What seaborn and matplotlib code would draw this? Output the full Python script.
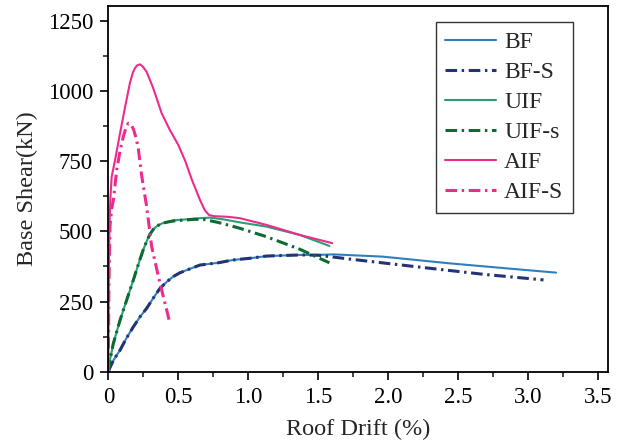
import matplotlib
matplotlib.use("Agg")
import matplotlib.pyplot as plt
import seaborn as sns
import pandas as pd
from matplotlib.ticker import MultipleLocator
from matplotlib import font_manager

# ---- data ----
bf_x = [0, 0.012, 0.038, 0.084, 0.13, 0.179, 0.226, 0.274, 0.321, 0.369, 0.417, 0.464, 0.51, 0.56, 0.655, 0.786, 0.89, 1.01, 1.13, 1.37, 1.49, 1.61, 1.96, 2.44, 2.92, 3.20]
bf_y = [0, 15, 42, 77, 120, 160, 195, 226, 262, 297, 320, 339, 352, 362, 380, 388, 398, 404, 412, 416, 416, 418, 410, 386, 365, 353]

bfs_x = [0, 0.012, 0.038, 0.084, 0.13, 0.179, 0.226, 0.274, 0.321, 0.369, 0.417, 0.464, 0.51, 0.56, 0.655, 0.786, 0.89, 1.01, 1.13, 1.37, 1.50, 1.73, 2.20, 2.68, 3.11]
bfs_y = [0, 15, 42, 77, 120, 160, 195, 226, 262, 297, 320, 339, 352, 362, 380, 388, 398, 404, 412, 416, 415, 401, 374, 347, 327]

uif_x = [0, 0.012, 0.036, 0.084, 0.131, 0.179, 0.226, 0.25, 0.274, 0.298, 0.321, 0.345, 0.37, 0.393, 0.464, 0.536, 0.655, 0.726, 0.82, 0.94, 1.13, 1.37, 1.58]
uif_y = [0, 42, 101, 184, 255, 327, 400, 435, 465, 490, 507, 518, 525, 530, 539, 542, 547, 549, 543, 532, 517, 487, 448]

uifs_x = [0, 0.012, 0.036, 0.084, 0.131, 0.179, 0.226, 0.25, 0.274, 0.298, 0.321, 0.345, 0.37, 0.393, 0.464, 0.536, 0.62, 0.69, 0.80, 0.94, 1.13, 1.37, 1.58]
uifs_y = [0, 42, 101, 184, 255, 327, 400, 435, 465, 490, 507, 518, 525, 530, 537, 540, 543, 542, 530, 511, 481, 436, 388]

aif_x = [0, 0.003, 0.008, 0.015, 0.024, 0.048, 0.084, 0.12, 0.155, 0.175, 0.19, 0.205, 0.226, 0.245, 0.274, 0.321, 0.381, 0.44, 0.50, 0.55, 0.60, 0.655, 0.69, 0.72, 0.76, 0.85, 0.94, 1.13, 1.37, 1.60]
aif_y = [0, 300, 520, 620, 695, 754, 850, 944, 1030, 1065, 1081, 1091, 1095, 1088, 1068, 1010, 921, 861, 808, 750, 680, 612, 575, 558, 554, 552, 547, 523, 487, 458]

aifs_x = [0, 0.004, 0.012, 0.024, 0.036, 0.06, 0.085, 0.107, 0.13, 0.143, 0.16, 0.179, 0.20, 0.214, 0.238, 0.274, 0.31, 0.369, 0.417, 0.44]
aifs_y = [0, 300, 520, 580, 612, 719, 790, 837, 875, 885, 882, 865, 830, 795, 700, 588, 445, 315, 220, 172]

labels = ["BF", "BF-S", "UIF", "UIF-s", "AIF", "AIF-S"]
colors = ["#2f7fbf", "#233474", "#2a9e73", "#0d6a32", "#ee2a8c", "#ee2a8c"]

sns.set_theme(style="ticks")

serif_font = "DejaVu Serif"
for cand in ["Liberation Serif", "Times New Roman", "Nimbus Roman", "STIXGeneral"]:
    try:
        font_manager.findfont(font_manager.FontProperties(family=cand), fallback_to_default=False)
        serif_font = cand
        break
    except Exception:
        pass
plt.rcParams["font.family"] = [serif_font, "DejaVu Serif"]

fig = plt.figure(figsize=(6.19, 4.46), dpi=100)
ax = fig.add_axes([0.175, 0.1666, 0.807, 0.82])

series = [(bf_x, bf_y), (bfs_x, bfs_y), (uif_x, uif_y), (uifs_x, uifs_y), (aif_x, aif_y), (aifs_x, aifs_y)]
dashdot = (0, (3.8, 1.5, 0.8, 1.5))
for i, ((xs, ys), lab, col) in enumerate(zip(series, labels, colors)):
    df = pd.DataFrame({"x": xs, "y": ys})
    solid = (i % 2 == 0)
    sns.lineplot(data=df, x="x", y="y", ax=ax, sort=False, estimator=None,
                 color=col, label=lab,
                 linewidth=1.5 if solid else 2.2,
                 linestyle="-" if solid else dashdot)

ax.set_xlim(0, 3.57)
ax.set_ylim(0, 1303)
ax.xaxis.set_minor_locator(MultipleLocator(0.25))
ax.yaxis.set_major_locator(MultipleLocator(250))
ax.yaxis.set_minor_locator(MultipleLocator(125))
ax.set_xticks([0, 0.5, 1.0, 1.5, 2.0, 2.5, 3.0, 3.5])
ax.set_xticklabels(["0", "0.5", "1.0", "1.5", "2.0", "2.5", "3.0", "3.5"])
ax.tick_params(axis="both", which="major", direction="out", length=6, width=1.2,
               labelsize=16.5, colors="black", pad=5)
ax.tick_params(axis="both", which="minor", direction="out", length=3.5, width=1.2)
for s in ax.spines.values():
    s.set_linewidth(1.3)
    s.set_color("black")
    s.set_visible(True)

ax.set_xlabel("Roof Drift (%)", fontsize=17.5, labelpad=8)
ax.set_ylabel("Base Shear(kN)", fontsize=17.5, labelpad=7)

leg = ax.legend(loc="upper right", bbox_to_anchor=(0.93, 0.956), fontsize=17,
                frameon=True, fancybox=False, edgecolor="black",
                handlelength=2.15, handletextpad=0.35, labelspacing=0.36,
                borderpad=0.4, borderaxespad=0)
leg.get_frame().set_linewidth(1.0)

fig.savefig("out.png", dpi=100)
